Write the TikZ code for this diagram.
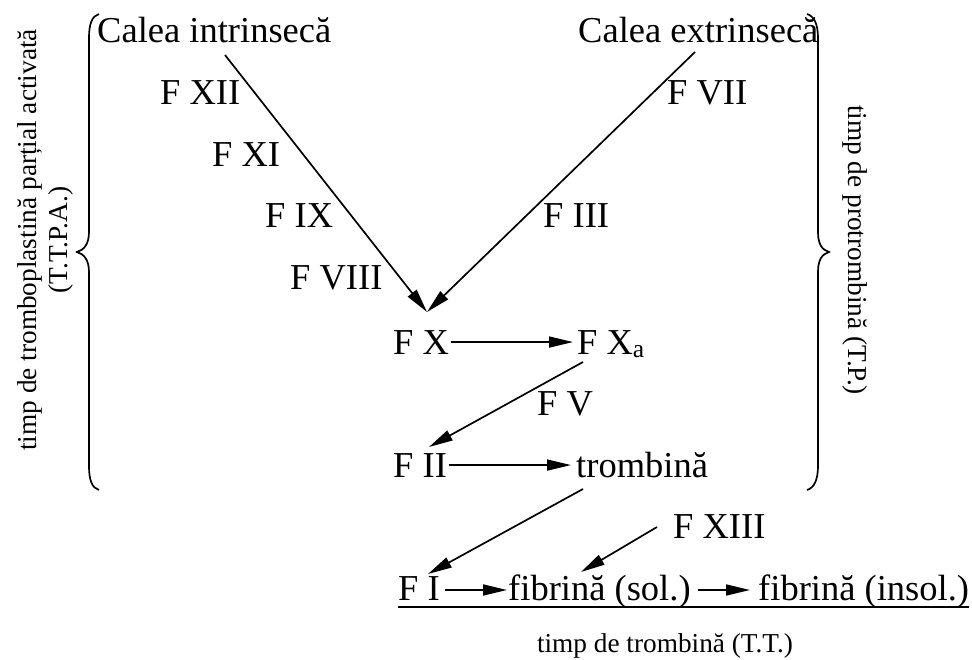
\documentclass[tikz,border=0pt]{standalone}
\usepackage{fontspec}
\setmainfont{Liberation Serif}
\usetikzlibrary{arrows.meta,calc}
\begin{document}
\begin{tikzpicture}[x=1pt,y=-1pt,
  lbl/.style={inner sep=0pt,anchor=base west,font=\fontsize{36.5}{40}\selectfont},
  sml/.style={inner sep=0pt,font=\fontsize{27.3}{31}\selectfont},
  arr/.style={line width=1.7pt,-{Triangle[length=24pt,width=11pt]}},
  bracestyle/.style={line width=1.7pt}]
\useasboundingbox (0,0) rectangle (972,660);
% labels
\node[lbl] (ci) at (97,43) {Calea intrinsecă};
\node[lbl] (ce) at (578,43) {Calea extrinsecă};
\node[lbl] (fxii) at (160,105) {F XII};
\node[lbl] (fxi) at (212,167) {F XI};
\node[lbl] (fix) at (265,228) {F IX};
\node[lbl] (fviii) at (290,290) {F VIII};
\node[lbl] (fvii) at (667,105) {F VII};
\node[lbl] (fiii) at (543,228) {F III};
\node[lbl] (fx) at (393,354) {F X};
\node[lbl] (fxa) at (577,354) {F X\textsubscript{a}};
\node[lbl] (fv) at (537,415) {F V};
\node[lbl] (fii) at (393,477) {F II};
\node[lbl] (tromb) at (576,477) {trombină};
\node[lbl] (fxiii) at (673,538) {F XIII};
\node[lbl] (fi) at (398,600) {F I};
\node[lbl] (fsol) at (508,600) {fibrină (sol.)};
\node[lbl] (finsol) at (758,600) {fibrină (insol.)};
\node[sml,anchor=base] (tt) at (665,652) {timp de trombină (T.T.)};
\node[sml,rotate=90,align=center] (ttpa) at (45,240) {timp de tromboplastină parțial activată\\(T.T.P.A.)};
\node[sml,rotate=-90] (tp) at (855,250) {timp de protrombină (T.P.)};
% coordinates
\coordinate (ciS) at (225,55);
\coordinate (ceS) at (695,52);
\coordinate (meet) at (427,312);
\coordinate (xaS) at (583,362);
\coordinate (iiT) at (429,447);
\coordinate (trS) at (583,489);
\coordinate (iT) at (428,574);
\coordinate (xiiiS) at (657,527);
\coordinate (solT) at (581,572);
% connectors
\draw[arr] (ciS) -- (meet);
\draw[arr] (ceS) -- (meet);
\draw[arr] ([xshift=2pt]fx.east) -- ([xshift=-4pt]fx.east -| fxa.west);
\draw[arr] (xaS) -- (iiT);
\draw[arr] ([xshift=2pt]fii.east) -- ([xshift=-5pt]fii.east -| tromb.west);
\draw[arr] (trS) -- (iT);
\draw[arr] (xiiiS) -- (solT);
\draw[arr] ([xshift=5pt,yshift=10pt]fi.base east) -- ([xshift=-1pt,yshift=10pt]fsol.base west);
\draw[arr] ([xshift=7pt,yshift=10pt]fsol.base east) -- ([xshift=-8pt,yshift=10pt]finsol.base west);
\draw[line width=2.5pt] ([yshift=-7pt]fi.base west) -- ([yshift=-7pt]finsol.base east);
% braces
\draw[bracestyle] (99,14) .. controls (92,16) and (89,24) .. (89,38) -- (89,232)
  .. controls (89,244) and (84,250) .. (77,252)
  .. controls (84,254) and (89,260) .. (89,272) -- (89,466)
  .. controls (89,480) and (92,488) .. (99,490);
\draw[bracestyle] (807,14) .. controls (814,16) and (818,24) .. (818,38) -- (818,232)
  .. controls (818,244) and (822,250) .. (829,252)
  .. controls (822,254) and (818,260) .. (818,272) -- (818,466)
  .. controls (818,480) and (814,488) .. (807,490);
\end{tikzpicture}
\end{document}
